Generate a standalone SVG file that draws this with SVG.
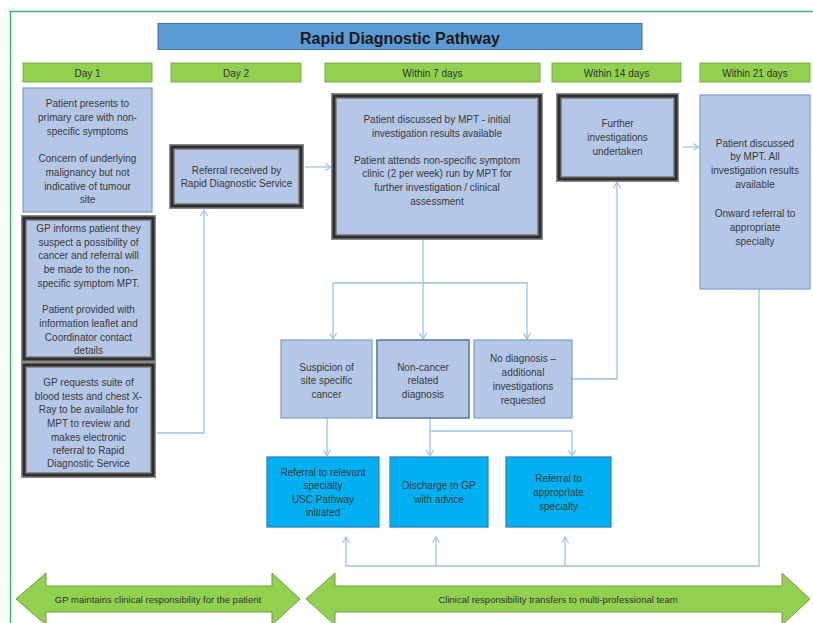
<svg xmlns="http://www.w3.org/2000/svg" width="813" height="623" viewBox="0 0 813 623">
  <defs>
    <style>
      text { font-family: "Liberation Sans", Arial, sans-serif; fill: #3a3a3a; text-anchor: middle; }
      .t { font-size: 10px; }
      .hdr { font-size: 10px; fill: #333; }
      .title { font-size: 16px; font-weight: bold; fill: #1a1a1a; }
      .band { font-size: 9.5px; fill: #333; }
      .head { fill: #92d050; stroke: #7faa4a; stroke-width: 1; }
      .box { fill: #b4c7e7; stroke: #7c9dd0; stroke-width: 1.2; }
      .boxmid { fill: #b4c7e7; stroke: #5d7aa6; stroke-width: 1.6; }
      .heavy-out { fill: #b4c7e7; stroke: #8a8a8a; stroke-width: 6; }
      .heavy-in { fill: none; stroke: #2e2e2e; stroke-width: 3; }
      .out { fill: #00b0f0; stroke: #2e86c1; stroke-width: 1.3; }
      .link { fill: none; stroke: #9dc3e6; stroke-width: 1.3; }
      .arrowband { fill: #92d050; stroke: #6e9e3c; stroke-width: 1; }
    </style>
    <marker id="open" markerWidth="10" markerHeight="10" refX="7" refY="4" orient="auto" markerUnits="userSpaceOnUse">
      <path d="M1,0.5 L7,4 L1,7.5" fill="none" stroke="#9dc3e6" stroke-width="1.2"/>
    </marker>
  </defs>

  <rect width="813" height="623" fill="#ffffff"/>
  <!-- outer frame -->
  <path d="M10.5,623 V11.5 H813" fill="none" stroke="#3cb371" stroke-width="1.5"/>

  <!-- title -->
  <g id="title">
    <rect x="158" y="23.5" width="484" height="26" fill="#5b9bd5" stroke="#41719c" stroke-width="1"/>
    <text class="title" x="400" y="43.5">Rapid Diagnostic Pathway</text>
  </g>

  <!-- timeline headers -->
  <g id="hdr-day1"><rect class="head" x="23" y="63" width="129" height="19"/><text class="hdr" x="87.5" y="76.5">Day 1</text></g>
  <g id="hdr-day2"><rect class="head" x="171" y="63" width="130" height="19"/><text class="hdr" x="236" y="76.5">Day 2</text></g>
  <g id="hdr-7"><rect class="head" x="325" y="63" width="215" height="19"/><text class="hdr" x="432.5" y="76.5">Within 7 days</text></g>
  <g id="hdr-14"><rect class="head" x="552" y="63" width="129" height="19"/><text class="hdr" x="616.5" y="76.5">Within 14 days</text></g>
  <g id="hdr-21"><rect class="head" x="700" y="63" width="110" height="19"/><text class="hdr" x="755" y="76.5">Within 21 days</text></g>

  <!-- connectors -->
  <g id="connectors">
    <path class="link" d="M157,433 H204 V210" marker-end="url(#open)"/>
    <path class="link" d="M305,167 H331" marker-end="url(#open)"/>
    <path class="link" d="M423,240 V339" marker-end="url(#open)"/>
    <path class="link" d="M423,283 H333 V339" marker-end="url(#open)"/>
    <path class="link" d="M423,283 H527 V339" marker-end="url(#open)"/>
    <path class="link" d="M572,379 H617 V182" marker-end="url(#open)"/>
    <path class="link" d="M683,147 H699" marker-end="url(#open)"/>
    <path class="link" d="M327,418 V456" marker-end="url(#open)"/>
    <path class="link" d="M430,418 V456" marker-end="url(#open)"/>
    <path class="link" d="M430,431 H572 V456" marker-end="url(#open)"/>
    <path class="link" d="M759,289 V566 H346 V537" marker-end="url(#open)"/>
    <path class="link" d="M436,566 V537" marker-end="url(#open)"/>
    <path class="link" d="M565,566 V537" marker-end="url(#open)"/>
  </g>

  <!-- Day 1 -->
  <g id="presents">
    <rect class="box" x="23" y="88" width="129" height="124"/>
    <text class="t"><tspan x="87.5" y="106.5">Patient presents to</tspan><tspan x="87.5" y="120.5">primary care with non-</tspan><tspan x="87.5" y="134.5">specific symptoms</tspan><tspan x="87.5" y="161.5">Concern of underlying</tspan><tspan x="87.5" y="175.5">malignancy but not</tspan><tspan x="87.5" y="189.5">indicative of tumour</tspan><tspan x="87.5" y="203">site</tspan></text>
  </g>
  <g id="gp-informs">
    <rect class="heavy-out" x="24" y="218" width="129" height="141"/>
    <rect class="heavy-in" x="24" y="218" width="129" height="141"/>
    <text class="t"><tspan x="88.5" y="231.5">GP informs patient they</tspan><tspan x="88.5" y="245.5">suspect a possibility of</tspan><tspan x="88.5" y="259">cancer and referral will</tspan><tspan x="88.5" y="272.5">be made to the non-</tspan><tspan x="88.5" y="286.5">specific symptom MPT.</tspan><tspan x="88.5" y="312.5">Patient provided with</tspan><tspan x="88.5" y="326.5">information leaflet and</tspan><tspan x="88.5" y="340.5">Coordinator contact</tspan><tspan x="88.5" y="354">details</tspan></text>
  </g>
  <g id="gp-requests">
    <rect class="heavy-out" x="24" y="365" width="129" height="110"/>
    <rect class="heavy-in" x="24" y="365" width="129" height="110"/>
    <text class="t"><tspan x="88.5" y="385.5">GP requests suite of</tspan><tspan x="88.5" y="399.5">blood tests and chest X-</tspan><tspan x="88.5" y="412.5">Ray to be available for</tspan><tspan x="88.5" y="426.5">MPT to review and</tspan><tspan x="88.5" y="440.5">makes electronic</tspan><tspan x="88.5" y="454">referral to Rapid</tspan><tspan x="88.5" y="467">Diagnostic Service</tspan></text>
  </g>

  <!-- Day 2 -->
  <g id="referral-received">
    <rect class="heavy-out" x="172" y="147" width="129" height="59"/>
    <rect class="heavy-in" x="172" y="147" width="129" height="59"/>
    <text class="t"><tspan x="236.5" y="173.5">Referral received by</tspan><tspan x="236.5" y="187">Rapid Diagnostic Service</tspan></text>
  </g>

  <!-- Within 7 days -->
  <g id="mpt-initial">
    <rect class="heavy-out" x="334" y="96" width="206" height="141"/>
    <rect class="heavy-in" x="334" y="96" width="206" height="141"/>
    <text class="t"><tspan x="437" y="122.5">Patient discussed by MPT - initial</tspan><tspan x="437" y="136.5">investigation results available</tspan><tspan x="437" y="163.5">Patient attends non-specific symptom</tspan><tspan x="437" y="177">clinic (2 per week) run by MPT for</tspan><tspan x="437" y="190.5">further investigation / clinical</tspan><tspan x="437" y="204.5">assessment</tspan></text>
  </g>
  <g id="suspicion">
    <rect class="box" x="281" y="340" width="91" height="78"/>
    <text class="t"><tspan x="326.5" y="370.5">Suspicion of</tspan><tspan x="326.5" y="384">site specific</tspan><tspan x="326.5" y="397.5">cancer</tspan></text>
  </g>
  <g id="non-cancer">
    <rect class="boxmid" x="377" y="340" width="92" height="78"/>
    <text class="t"><tspan x="423" y="370.5">Non-cancer</tspan><tspan x="423" y="384">related</tspan><tspan x="423" y="397.5">diagnosis</tspan></text>
  </g>
  <g id="no-diagnosis">
    <rect class="box" x="474" y="340" width="98" height="78"/>
    <text class="t"><tspan x="523" y="361.5">No diagnosis –</tspan><tspan x="523" y="375.5">additional</tspan><tspan x="523" y="389.5">investigations</tspan><tspan x="523" y="403.5">requested</tspan></text>
  </g>
  <g id="referral-relevant">
    <rect class="out" x="267" y="457" width="112" height="70"/>
    <text class="t"><tspan x="323" y="475.5">Referral to relevant</tspan><tspan x="323" y="489">specialty</tspan><tspan x="323" y="502.5">USC Pathway</tspan><tspan x="323" y="516">initiated</tspan></text>
  </g>
  <g id="discharge">
    <rect class="out" x="390" y="457" width="98" height="70"/>
    <text class="t"><tspan x="439" y="488.5">Discharge to GP</tspan><tspan x="439" y="502.5">with advice</tspan></text>
  </g>
  <g id="referral-appropriate">
    <rect class="out" x="506" y="457" width="105" height="70"/>
    <text class="t"><tspan x="558.5" y="481.5">Referral to</tspan><tspan x="558.5" y="495.5">appropriate</tspan><tspan x="558.5" y="509.5">specialty</tspan></text>
  </g>

  <!-- Within 14 days -->
  <g id="further">
    <rect class="heavy-out" x="559" y="96" width="117" height="83"/>
    <rect class="heavy-in" x="559" y="96" width="117" height="83"/>
    <text class="t"><tspan x="617.5" y="126.5">Further</tspan><tspan x="617.5" y="140.5">investigations</tspan><tspan x="617.5" y="154.5">undertaken</tspan></text>
  </g>

  <!-- Within 21 days -->
  <g id="mpt-all">
    <rect class="box" x="700" y="95" width="110" height="194"/>
    <text class="t"><tspan x="755" y="146.5">Patient discussed</tspan><tspan x="755" y="159.5">by MPT. All</tspan><tspan x="755" y="173.5">investigation results</tspan><tspan x="755" y="187.5">available</tspan><tspan x="755" y="216.5">Onward referral to</tspan><tspan x="755" y="230.5">appropriate</tspan><tspan x="755" y="244.5">specialty</tspan></text>
  </g>

  <!-- responsibility bands -->
  <g id="band-gp">
    <path class="arrowband" d="M16,599 L46,573 V586 H272 V573 L300,599 L272,625 V612 H46 V625 Z"/>
    <text class="band" x="158" y="602.5">GP maintains clinical responsibility for the patient</text>
  </g>
  <g id="band-mpt">
    <path class="arrowband" d="M306,599 L335,573 V586 H782 V573 L810,599 L782,625 V612 H335 V625 Z"/>
    <text class="band" x="558" y="602.5">Clinical responsibility transfers to multi-professional team</text>
  </g>
</svg>
